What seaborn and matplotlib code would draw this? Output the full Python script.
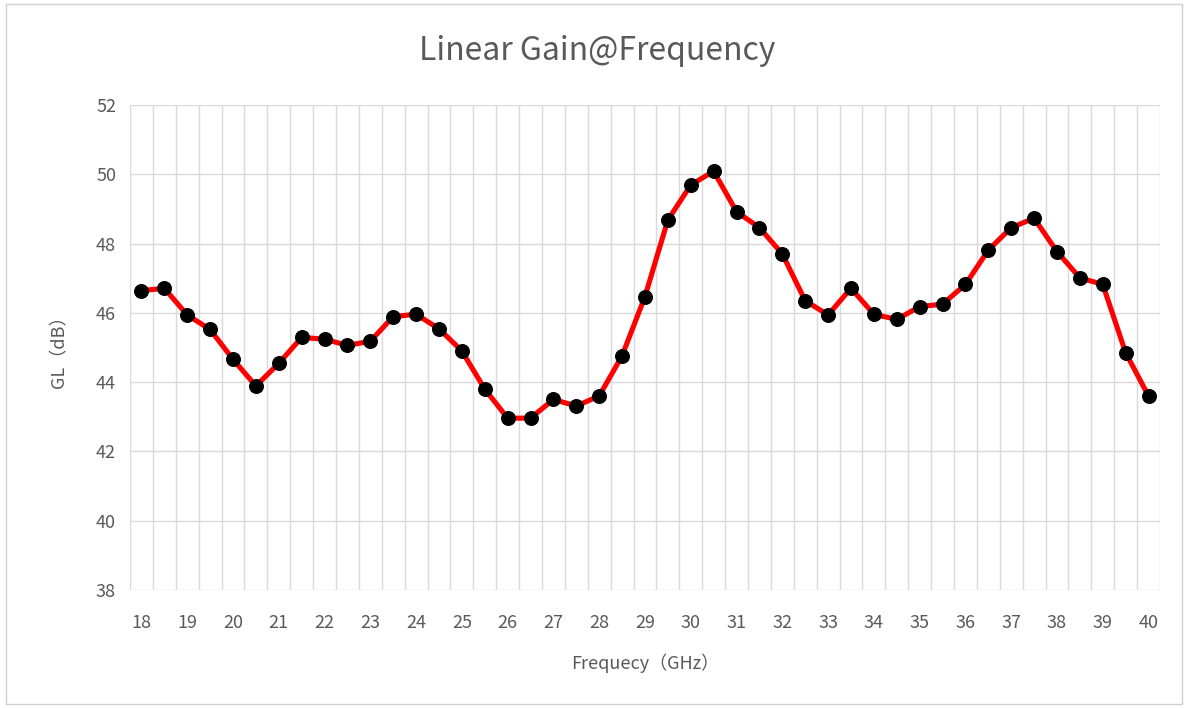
import matplotlib
matplotlib.use('Agg')
import matplotlib.pyplot as plt
import numpy as np
import pandas as pd
import seaborn as sns
from matplotlib.patches import Rectangle

# 数据：频率 (GHz) 与线性增益 GL (dB)
freq = [18, 18.5, 19, 19.5, 20, 20.5, 21, 21.5, 22, 22.5, 23, 23.5, 24, 24.5,
        25, 25.5, 26, 26.5, 27, 27.5, 28, 28.5, 29, 29.5, 30, 30.5, 31, 31.5,
        32, 32.5, 33, 33.5, 34, 34.5, 35, 35.5, 36, 36.5, 37, 37.5, 38, 38.5,
        39, 39.5, 40]
gain = [46.64, 46.71, 45.94, 45.52, 44.66, 43.89, 44.54, 45.29, 45.24, 45.06,
        45.18, 45.89, 45.96, 45.54, 44.90, 43.80, 42.96, 42.96, 43.50, 43.31,
        43.60, 44.76, 46.47, 48.68, 49.69, 50.09, 48.92, 48.46, 47.70, 46.35,
        45.94, 46.71, 45.96, 45.81, 46.18, 46.25, 46.82, 47.81, 48.46, 48.73,
        47.77, 47.01, 46.82, 44.85, 43.60]
xticks = list(range(18, 41))
yticks = list(range(38, 53, 2))

df = pd.DataFrame({'freq': freq, 'gain': gain})

sns.set_style('white')
plt.rcParams['font.family'] = ['Noto Sans CJK SC', 'DejaVu Sans']
txt = '#595959'
grid = '#d9d9d9'

fig = plt.figure(figsize=(11.88, 7.08), dpi=100)
fig.patches.append(Rectangle((0.005, 0.006), 0.99, 0.988, transform=fig.transFigure,
                             fill=False, edgecolor='#d0d0d0', linewidth=1))
ax = fig.add_axes([0.1094, 0.1667, 0.8670, 0.6850])

sns.lineplot(data=df, x='freq', y='gain', ax=ax, color='#ff0000', linewidth=3.7,
             marker='o', markersize=10, markerfacecolor='black',
             markeredgecolor='black', zorder=3)

ax.set_xlim(17.75, 40.25)
ax.set_ylim(38, 52)
ax.set_xticks(xticks)
ax.set_xticks(np.arange(17.75, 40.3, 0.5), minor=True)
ax.set_yticks(yticks)
ax.grid(False)
ax.grid(True, which='minor', axis='x', color=grid, linewidth=1)
ax.grid(True, which='major', axis='y', color=grid, linewidth=1)
ax.tick_params(axis='both', which='both', length=0, labelsize=13, labelcolor=txt)
ax.tick_params(axis='x', pad=17)
ax.tick_params(axis='y', pad=10)
for s in ax.spines.values():
    s.set_visible(False)

ax.set_xlabel('Frequecy（GHz）', fontsize=13, color=txt, labelpad=16)
ax.set_ylabel('GL（dB）', fontsize=13, color=txt, labelpad=20)
fig.text(0.503, 0.928, 'Linear Gain@Frequency', fontsize=23, color=txt,
         ha='center', va='center')

fig.savefig('out.png', dpi=100)
